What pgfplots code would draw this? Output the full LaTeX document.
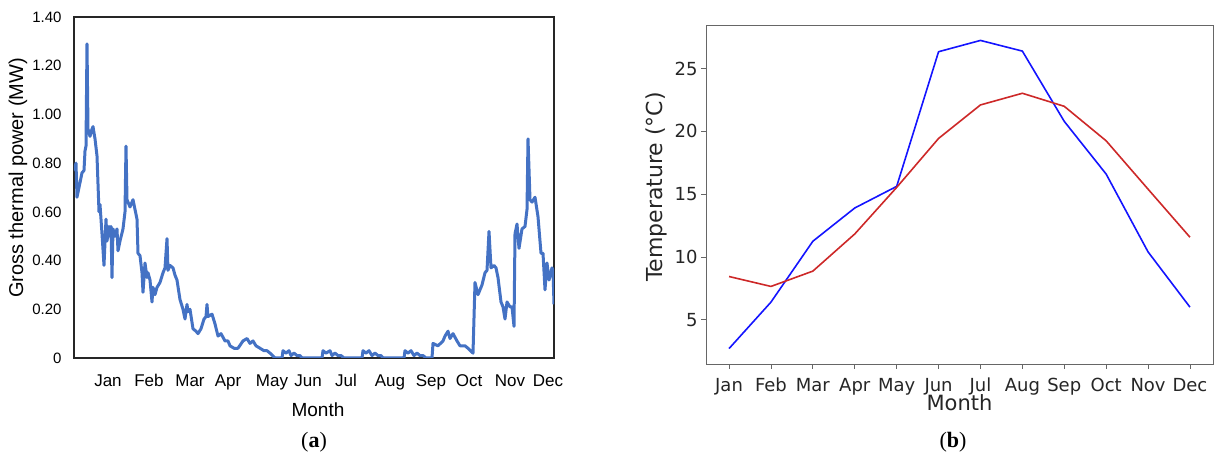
\documentclass[border=0pt]{standalone}
\usepackage{fontspec}
\setmainfont{Liberation Sans}
\newfontfamily\djv{DejaVu Sans}
\newfontfamily\capfont{Liberation Serif}
\usepackage{pgfplots}
\pgfplotsset{compat=1.18}
\definecolor{xlblue}{RGB}{68,114,196}
\definecolor{mplred}{RGB}{205,40,40}
\definecolor{mplblue}{RGB}{20,20,255}
\begin{document}
\begin{tikzpicture}[x=1pt,y=1pt]
\useasboundingbox (0,0) rectangle (1214,462);
% ---------------- (a) ----------------
\begin{axis}[
  at={(74pt,104pt)}, anchor=south west,
  scale only axis, width=480pt, height=341pt,
  xmin=74, xmax=554, ymin=0, ymax=1.4,
  axis line style={draw=black!85, line width=1.1pt},
  major tick length=0pt,
  xtick={108,149,190,228,272,308,346,390,431,469,510,548},
  xticklabels={Jan,Feb,Mar,Apr,May,Jun,Jul,Aug,Sep,Oct,Nov,Dec},
  xticklabel style={font=\fontsize{17}{20}\selectfont, anchor=base, yshift=-29pt},
  ytick={0,0.2,0.4,0.6,0.8,1.0,1.2,1.4},
  yticklabels={0,0.20,0.40,0.60,0.80,1.00,1.20,1.40},
  yticklabel style={font=\fontsize{15}{18}\selectfont, anchor=east, xshift=-9pt},
  xlabel={Month},
  xlabel style={font=\fontsize{19}{22}\selectfont, at={(axis description cs:0.5,0)}, anchor=base, yshift=-59pt, xshift=4pt},
  ylabel={Gross thermal power (MW)},
  ylabel style={font=\fontsize{20}{23}\selectfont, at={(axis description cs:-0.1167,0.528)}, anchor=center},
  clip=true,
]
\addplot[xlblue, line width=3pt, line join=round] coordinates {
(74,0.77)(76,0.80)(77,0.66)(80,0.72)(82,0.76)(84,0.77)(85,0.85)(86,0.87)(87,1.29)(88,0.94)
(90,0.91)(92,0.94)(93,0.95)(95,0.90)(97,0.83)(99,0.60)(100,0.63)(102,0.51)(104,0.38)(106,0.57)
(107,0.48)(109,0.54)(110,0.50)(111,0.54)(112,0.33)(113,0.53)(115,0.50)(117,0.53)(118,0.44)(120,0.48)
(123,0.53)(125,0.60)(126,0.87)(127,0.65)(130,0.62)(133,0.65)(135,0.61)(137,0.57)(138,0.43)(140,0.42)
(142,0.35)(143,0.27)(145,0.39)(147,0.33)(148,0.35)(150,0.32)(152,0.23)(153,0.29)(155,0.26)(157,0.29)
(160,0.31)(163,0.35)(165,0.37)(167,0.49)(168,0.36)(170,0.38)(173,0.37)(175,0.34)(177,0.32)(180,0.24)
(183,0.20)(185,0.16)(187,0.22)(188,0.19)(190,0.20)(193,0.12)(196,0.11)(198,0.10)(201,0.12)(204,0.16)
(206,0.17)(207,0.22)(208,0.17)(212,0.18)(215,0.14)(218,0.09)(221,0.10)(225,0.07)(228,0.07)(230,0.05)
(234,0.04)(238,0.04)(243,0.07)(247,0.08)(250,0.06)(253,0.07)(256,0.05)(260,0.04)(264,0.03)(267,0.03)
(270,0.02)(275,0.00)(282,0.00)(283,0.03)(286,0.02)(289,0.03)(291,0.01)(294,0.02)(297,0.01)(300,0.01)
(302,0.00)(322,0.00)(323,0.03)(326,0.02)(330,0.03)(332,0.01)(335,0.02)(338,0.01)(341,0.01)(344,0.00)
(362,0.00)(363,0.03)(366,0.02)(369,0.03)(372,0.01)(375,0.02)(378,0.01)(381,0.01)(383,0.00)
(404,0.00)(405,0.03)(408,0.02)(411,0.03)(414,0.01)(417,0.02)(420,0.01)(423,0.01)(426,0.00)
(432,0.00)(433,0.06)(438,0.05)(443,0.07)(445,0.09)(448,0.11)(450,0.08)(453,0.10)(457,0.07)(460,0.05)
(465,0.05)(468,0.04)(473,0.02)(475,0.31)(478,0.26)(482,0.30)(485,0.35)(487,0.36)(489,0.52)(491,0.37)
(494,0.38)(496,0.37)(498,0.33)(501,0.23)(503,0.21)(505,0.16)(507,0.23)(510,0.21)(512,0.21)(514,0.13)
(515,0.51)(517,0.55)(519,0.45)(522,0.53)(525,0.54)(527,0.61)(528,0.90)(530,0.65)(532,0.64)(535,0.66)
(538,0.58)(541,0.43)(543,0.43)(545,0.28)(547,0.39)(549,0.32)(552,0.37)(553,0.36)(554,0.22)
};
\end{axis}
% ---------------- (b) ----------------
\begin{axis}[
  at={(706pt,98pt)}, anchor=south west,
  scale only axis, width=507pt, height=339pt,
  xmin=-0.55, xmax=11.55, ymin=1.47, ymax=28.48,
  axis line style={draw=black!60, line width=0.9pt},
  tick align=outside, major tick length=5pt,
  tick style={draw=black!60, line width=0.8pt},
  xtick={0,...,11},
  xticklabels={Jan,Feb,Mar,Apr,May,Jun,Jul,Aug,Sep,Oct,Nov,Dec},
  xtick pos=bottom, ytick pos=left,
  xticklabel style={font=\djv\fontsize{18}{21}\selectfont, text=black!85, anchor=base, yshift=-23pt},
  ytick={5,10,15,20,25},
  yticklabels={5,10,15,20,25},
  yticklabel style={font=\djv\fontsize{18}{21}\selectfont, text=black!85},
  xlabel={Month},
  xlabel style={font=\djv\fontsize{21}{24}\selectfont, text=black!85, at={(axis description cs:0.5,0)}, anchor=base, yshift=-47pt},
  ylabel={Temperature (°C)},
  ylabel style={font=\djv\fontsize{22}{25}\selectfont, text=black!85, at={(axis description cs:-0.0986,0.522)}, anchor=center},
]
\addplot[mplblue, line width=1.6pt, line join=round] coordinates {
(0,2.70)(1,6.40)(2,11.25)(3,13.90)(4,15.62)(5,26.35)(6,27.25)(7,26.40)(8,20.80)(9,16.60)(10,10.40)(11,6.00)
};
\addplot[mplred, line width=1.6pt, line join=round] coordinates {
(0,8.44)(1,7.65)(2,8.87)(3,11.83)(4,15.54)(5,19.44)(6,22.11)(7,23.04)(8,22.00)(9,19.25)(10,15.40)(11,11.57)
};
\end{axis}
\node[font=\capfont\fontsize{22}{25}\selectfont, anchor=base] at (314,14) {(\textbf{a})};
\node[font=\capfont\fontsize{22}{25}\selectfont, anchor=base] at (953,14) {(\textbf{b})};
\end{tikzpicture}
\end{document}
